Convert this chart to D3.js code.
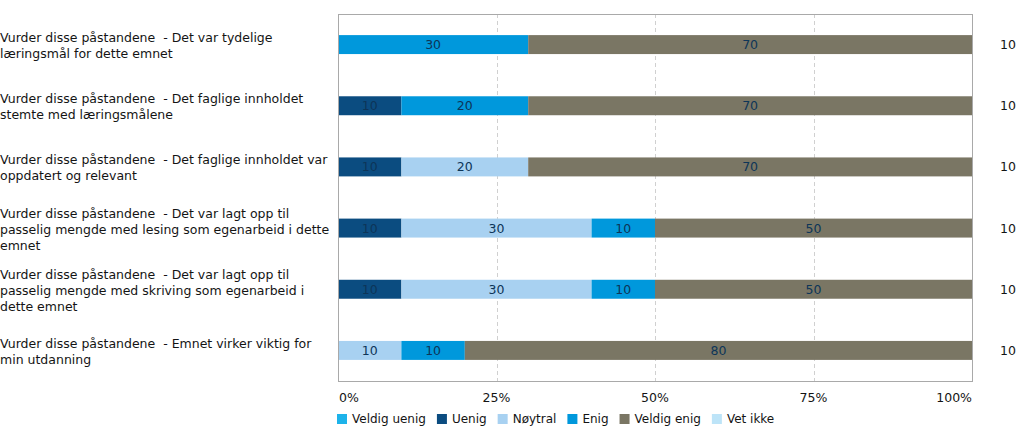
<!DOCTYPE html>
<html>
<head>
<meta charset="utf-8">
<script src="https://cdn.jsdelivr.net/npm/d3@7"></script>
<style>
  html, body { margin: 0; padding: 0; background: #fff; }
  svg { display: block; font-family: "DejaVu Sans", Verdana, sans-serif; }
  text { white-space: pre; }
</style>
</head>
<body>
<svg id="chart" width="1024" height="430"></svg>
<script>
// ---- Data ----
const categories = [
  ["Vurder disse påstandene  - Det var tydelige", "læringsmål for dette emnet"],
  ["Vurder disse påstandene  - Det faglige innholdet", "stemte med læringsmålene"],
  ["Vurder disse påstandene  - Det faglige innholdet var", "oppdatert og relevant"],
  ["Vurder disse påstandene  - Det var lagt opp til", "passelig mengde med lesing som egenarbeid i dette", "emnet"],
  ["Vurder disse påstandene  - Det var lagt opp til", "passelig mengde med skriving som egenarbeid i", "dette emnet"],
  ["Vurder disse påstandene  - Emnet virker viktig for", "min utdanning"]
];
const seriesNames = ["Veldig uenig", "Uenig", "Nøytral", "Enig", "Veldig enig", "Vet ikke"];
const seriesColors = ["#1db3ea", "#0b4c80", "#a8d1f1", "#0098dc", "#7a7664", "#bde4f8"];
const veldigUenig = [0, 0, 0, 0, 0, 0];
const uenig       = [0, 10, 10, 10, 10, 0];
const noytral     = [0, 0, 20, 30, 30, 10];
const enig        = [30, 20, 0, 10, 10, 10];
const veldigEnig  = [70, 70, 70, 50, 50, 80];
const vetIkke     = [0, 0, 0, 0, 0, 0];
const counts      = [10, 10, 10, 10, 10, 10];
const tickValues  = [0, 25, 50, 75, 100];
const tickLabels  = ["0%", "25%", "50%", "75%", "100%"];

(function () {
const seriesValues = [veldigUenig, uenig, noytral, enig, veldigEnig, vetIkke];
const rows = categories.map((c, i) => {
  const r = { idx: i };
  seriesNames.forEach((s, j) => r[s] = seriesValues[j][i]);
  return r;
});

// ---- Layout ----
const svg = d3.select("#chart");
const pL = 338, pR = 972, pT = 14, pB = 381;

const x = d3.scaleLinear().domain([0, 100]).range([pL, pR]);
const y = d3.scaleBand().domain(d3.range(categories.length)).range([pT, pB])
  .paddingInner(0.69).paddingOuter(0.345);

// grid lines
svg.append("g").selectAll("line").data(tickValues.slice(1, -1)).join("line")
  .attr("x1", d => Math.round(x(d)) + 0.5).attr("x2", d => Math.round(x(d)) + 0.5)
  .attr("y1", pT).attr("y2", pB)
  .attr("stroke", "#d0d0d0").attr("stroke-dasharray", "4,3");

// stacked bars
const stack = d3.stack().keys(seriesNames)(rows);
const g = svg.append("g");
stack.forEach((layer, j) => {
  g.append("g").attr("fill", seriesColors[j]).selectAll("rect")
    .data(layer.filter(d => d[1] - d[0] > 0)).join("rect")
    .attr("x", d => x(d[0]))
    .attr("width", d => x(d[1]) - x(d[0]))
    .attr("y", d => y(d.data.idx))
    .attr("height", y.bandwidth());
});

// value labels
stack.forEach((layer, j) => {
  g.append("g").selectAll("text")
    .data(layer.filter(d => d[1] - d[0] > 0)).join("text")
    .attr("x", d => (x(d[0]) + x(d[1])) / 2)
    .attr("y", d => y(d.data.idx) + y.bandwidth() / 2)
    .attr("dy", "0.36em")
    .attr("text-anchor", "middle")
    .attr("font-size", "12.5px")
    .attr("fill", "#0d3558")
    .text(d => d[1] - d[0]);
});

// plot border
svg.append("rect")
  .attr("x", pL + 0.5).attr("y", pT + 0.5)
  .attr("width", pR - pL).attr("height", pB - pT)
  .attr("fill", "none").attr("stroke", "#a9a9a9");

// category labels
const lineH = 16;
const catG = svg.append("g");
categories.forEach((lines, i) => {
  const cy = y(i) + y.bandwidth() / 2;
  const t = catG.append("text")
    .attr("x", 0)
    .attr("font-size", "12.5px")
    .attr("fill", "#141414");
  lines.forEach((ln, k) => {
    t.append("tspan")
      .attr("x", 0)
      .attr("y", cy + (k - (lines.length - 1) / 2) * lineH + 1)
      .attr("dy", "0.36em")
      .text(ln);
  });
});

// counts at right
svg.append("g").selectAll("text").data(counts).join("text")
  .attr("x", 1000)
  .attr("y", (d, i) => y(i) + y.bandwidth() / 2)
  .attr("dy", "0.36em")
  .attr("font-size", "12.5px")
  .attr("fill", "#141414")
  .text(d => d);

// x axis labels
svg.append("g").selectAll("text").data(tickValues).join("text")
  .attr("x", d => x(d) + (d === 0 ? 1 : 0))
  .attr("y", 397)
  .attr("dy", "0.36em")
  .attr("text-anchor", (d, i) => i === 0 ? "start" : (i === tickValues.length - 1 ? "end" : "middle"))
  .attr("font-size", "12.5px")
  .attr("fill", "#141414")
  .text((d, i) => tickLabels[i]);

// legend
const legend = svg.append("g");
let lx = 337;
seriesNames.forEach((s, j) => {
  legend.append("rect")
    .attr("x", lx).attr("y", 414)
    .attr("width", 10).attr("height", 10)
    .attr("fill", seriesColors[j]);
  const t = legend.append("text")
    .attr("x", lx + 15).attr("y", 419)
    .attr("dy", "0.36em")
    .attr("font-size", "12px")
    .attr("fill", "#141414")
    .text(s);
  const w = t.node().getComputedTextLength();
  lx += 15 + w + 11;
});
})();
</script>
</body>
</html>
